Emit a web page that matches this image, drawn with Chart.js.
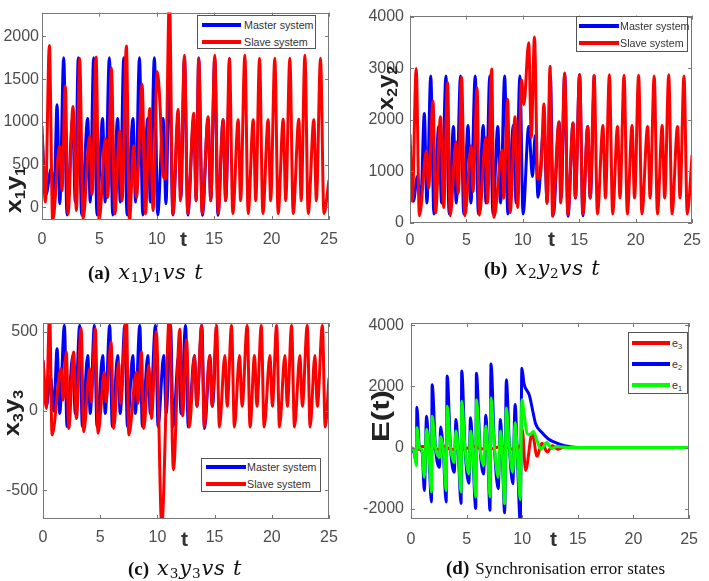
<!DOCTYPE html>
<html>
<head>
<meta charset="utf-8">
<script src="https://cdn.jsdelivr.net/npm/chart.js@4.4.0/dist/chart.umd.min.js"></script>
<style>
body { margin: 0; background: #fff; }
#page { position: relative; width: 709px; height: 581px; overflow: hidden; font-family: "Liberation Sans", Arial, sans-serif; }
canvas { position: absolute; left: 0; top: 0; }
.ytitle { position: absolute; font-weight: bold; color: #222; white-space: nowrap; line-height: 1; }
.ytitle sub { font-size: 65%; vertical-align: -0.25em; line-height: 0; }
.tlab { position: absolute; font: bold 21px "Liberation Sans", Arial, sans-serif; color: #333; line-height: 1; }
.legend { position: absolute; background: #fff; border: 1px solid #555; box-sizing: border-box; }
.legend .ln { position: absolute; height: 4px; }
.legend .tx { position: absolute; font-size: 10.7px; color: #333; line-height: 12px; white-space: nowrap; }
.legend .tx sub { font-size: 70%; vertical-align: -0.3em; line-height: 0; }
.cap { position: absolute; white-space: nowrap; line-height: 22px; color: #111; }
.cap b { font: bold 19px "Liberation Serif", "Times New Roman", serif; }
.cap .m { font: italic 21px "DejaVu Serif", serif; letter-spacing: 0.8px; margin-left: 8px; }
.cap .m sub { font-style: normal; font-size: 65%; vertical-align: -0.25em; line-height: 0; }
.cap .r { font: 17px "Liberation Serif", "Times New Roman", serif; margin-left: 6px; }
</style>
</head>
<body>
<div id="page">
  <canvas id="chartA" width="709" height="581"></canvas>
  <canvas id="chartB" width="709" height="581"></canvas>
  <canvas id="chartC" width="709" height="581"></canvas>
  <canvas id="chartD" width="709" height="581"></canvas>
  <div id="overlay"></div>
</div>
<script>
// shared axis ticks
const xTicks = [0, 5, 10, 15, 20, 25];
const yTicksA = [0, 500, 1000, 1500, 2000];
const yTicksB = [0, 1000, 2000, 3000, 4000];
const yTicksC = [-500, 0, 500];
const yTicksD = [-2000, 0, 2000, 4000];

// (a) x1 / y1 : [t, value]
const masterA = [[0,850],[0.35,150],[0.8,450],[1.05,80],[1.31,1200],[1.55,40],[1.89,1750],[2.18,-90],[2.67,1040],[2.9,60],
  [3.16,1750],[3.45,-90],[3.98,1040],[4.2,60],[4.5,1750],[4.79,-90],[5.28,1040],[5.5,60],[5.87,1750],[6.16,-90],
  [6.59,1040],[6.82,60],[7.12,1750],[7.41,-90],[7.93,1040],[8.15,60],[8.49,1750],[8.78,-90],[9.21,1040],[9.44,60],
  [9.79,1750],[10.08,-90],[10.55,1040],[10.8,40],[11.1,1750],[11.4,-90],[11.86,1040],[12.1,110],[12.41,1750],[12.7,-90],
  [13.22,1040],[13.43,75],[13.65,1750],[13.97,-95],[14.47,1040],[14.7,75],[15.05,1750],[15.32,-95],[15.78,1025],[16.0,75],[16.33,1745]];
const slaveA = [[0,950],[0.3,60],[0.64,1895],[0.93,-160],[1.54,720],[1.74,190],[2.03,1420],[2.27,-80],[2.7,1180],[3.0,-40],
  [3.28,1745],[3.58,-140],[4.16,835],[4.36,150],[4.71,1760],[4.98,-150],[5.52,800],[5.73,115],[6.05,1630],[6.34,-80],
  [6.77,890],[6.98,75],[7.35,1890],[7.62,-160],[7.99,720],[8.23,115],[8.72,1440],[9.01,-80],[9.39,1155],[9.68,-40],
  [10.03,1590],[10.3,1150],[10.48,450],[10.75,330],[11.1,2450],[11.4,-80],[11.86,1145],[12.06,75],[12.41,1780],[12.7,-75],
  [13.22,1100],[13.43,75],[13.65,1743],[13.95,-75],[14.47,1060],[14.7,75],[15.05,1780],[15.35,-75],[15.78,1025],[16.0,75],
  [16.33,1745],[16.62,-75],[17.09,1025],[17.3,75],[17.67,1780],[17.96,-75],[18.4,1025],[18.62,75],[18.95,1745],[19.24,-75],
  [19.7,1025],[19.92,75],[20.28,1745],[20.57,-75],[21.01,1030],[21.23,75],[21.59,1745],[21.88,-75],[22.37,1030],[22.58,75],
  [22.9,1780],[23.19,-75],[23.68,1025],[23.9,75],[24.26,1745],[24.56,-75],[25,320]];

// (b) x2 / y2
const masterB = [[0,1500],[0.3,420],[0.65,900],[0.95,380],[1.27,2124],[1.5,390],[1.84,2855],[2.12,175],[2.55,1880],[2.8,390],
  [3.19,2855],[3.47,175],[3.85,1875],[4.1,390],[4.48,2855],[4.76,175],[5.14,1890],[5.4,390],[5.78,2855],[6.06,175],
  [6.49,1890],[6.74,390],[7.07,2855],[7.35,175],[7.78,1875],[8.03,390],[8.39,2855],[8.67,175],[9.16,1890],[9.41,390],
  [9.74,2855],[10.02,175],[10.52,1875],[10.85,900],[11.1,1700],[11.35,500],[11.87,1900],[12.15,390],[12.44,2855],[12.7,160],
  [13.22,1960],[13.4,480],[13.71,2900],[14.0,130],[14.45,1940],[14.66,483],[15.03,2880],[15.32,140],[15.75,1875],[15.97,483],[16.32,2867]];
const slaveB = [[0,1720],[0.2,420],[0.55,3000],[0.83,140],[1.47,1410],[1.64,670],[2.04,2370],[2.27,200],[2.7,2060],[2.99,300],
  [3.33,2730],[3.56,140],[4.08,1570],[4.28,575],[4.57,2835],[4.86,140],[5.43,1505],[5.58,610],[5.95,2620],[6.15,150],
  [6.72,1660],[6.87,390],[7.24,2990],[7.44,110],[8.16,1410],[8.3,480],[8.65,2400],[8.88,205],[9.31,2060],[9.54,300],
  [9.89,2775],[10.09,2300],[10.52,3500],[10.75,1660],[11.03,3610],[11.32,850],[11.6,1000],[11.87,2310],[12.15,380],[12.41,3040],
  [12.64,130],[13.2,1960],[13.35,390],[13.71,2910],[13.99,160],[14.45,1940],[14.66,483],[15.03,2880],[15.32,175],[15.75,1875],
  [15.97,483],[16.32,2867],[16.61,175],[17.1,1890],[17.32,483],[17.67,2875],[17.96,175],[18.39,1875],[18.61,483],[18.97,2867],
  [19.26,175],[19.68,1890],[19.9,483],[20.26,2867],[20.55,175],[21.06,1875],[21.28,483],[21.64,2855],[21.93,175],[22.35,1890],
  [22.57,483],[22.93,2875],[23.22,175],[23.71,1875],[23.93,483],[24.28,2855],[24.57,175],[25,1320]];

// (c) x3 / y3
const masterC = [[0,320],[0.3,30],[0.65,220],[0.95,0],[1.23,393],[1.46,-15],[1.87,540],[2.1,-98],[2.6,350],[2.82,-15],
  [3.21,540],[3.44,-98],[3.91,351],[4.13,-15],[4.49,540],[4.72,-98],[5.22,351],[5.44,-15],[5.83,540],[6.06,-98],
  [6.53,351],[6.75,-15],[7.15,540],[7.38,-98],[7.85,351],[8.07,-15],[8.46,540],[8.69,-98],[9.16,351],[9.38,-15],
  [9.83,540],[10.06,-98],[10.55,351],[10.77,-15],[11.15,540],[11.38,-98],[11.85,351],[12.07,-15],[12.46,540],[12.7,-100],
  [13.24,350],[13.45,30],[13.88,540],[14.12,-110],[14.6,350],[14.8,30],[15.17,540]];
const slaveC = [[0,320],[0.29,17],[0.58,620],[0.79,-150],[1.58,268],[1.75,69],[2.04,372],[2.25,-109],[2.68,372],[2.92,-46],
  [3.33,522],[3.56,-130],[4.08,268],[4.2,59],[4.58,518],[4.81,-140],[5.37,247],[5.51,59],[5.95,435],[6.18,-109],
  [6.62,309],[6.77,48],[7.29,600],[7.5,-150],[8.17,247],[8.31,48],[8.6,372],[8.81,-109],[9.25,288],[9.48,-46],
  [9.9,500],[10.38,-720],[11.05,600],[11.4,-370],[11.96,516],[12.2,-30],[12.55,450],[12.8,-100],[13.24,350],[13.45,30],
  [13.86,540],[14.1,-100],[14.56,350],[14.77,30],[15.17,540],[15.42,-100],[15.9,350],[16.1,30],[16.48,540],[16.73,-100],
  [17.18,350],[17.4,30],[17.85,540],[18.1,-100],[18.49,350],[18.7,30],[19.08,540],[19.33,-100],[19.84,350],[20.05,30],
  [20.42,540],[20.67,-100],[21.15,350],[21.36,30],[21.73,540],[21.98,-100],[22.46,350],[22.67,30],[23.1,540],[23.35,-100],
  [23.77,350],[23.98,30],[24.42,540],[24.67,-100],[25,210]];

// (d) synchronisation errors
const errE3 = [[0,0],[0.5,-80],[1,30],[2.5,-60],[3,40],[3.5,-50],[4.8,-60],[5.5,40],[6.5,-50],[7.3,-40],[8.2,50],[9,-50],
  [9.9,80],[10.0,600],[10.3,-750],[10.9,480],[11.33,-290],[11.77,140],[12.25,-150],[12.7,60],[13.2,-60],[13.8,15],[14.5,0],[25,0]];
const errE2 = [[0,0],[0.3,-200],[0.48,-500],[0.53,1318],[0.75,0],[1.0,-150],[1.2,-1404],[1.4,1026],[1.6,-100],[1.84,-1782],
  [1.9,2052],[2.2,0],[2.57,-648],[2.66,670],[2.9,-100],[3.16,-1782],[3.25,2344],[3.55,0],[3.89,-810],[4.04,918],
  [4.25,-150],[4.5,-1836],[4.56,2506],[4.85,0],[5.2,-1166],[5.35,972],[5.55,-150],[5.82,-1998],[5.88,2430],[6.2,0],
  [6.52,-864],[6.73,1058],[6.9,-150],[7.1,-2052],[7.19,2732],[7.5,0],[7.84,-1350],[8.04,918],[8.2,-150],[8.42,-2138],
  [8.57,2214],[8.85,0],[9.15,-1188],[9.36,1404],[9.55,-150],[9.82,-2400],[9.97,2592],[10.15,2100],[10.65,1700],[11.0,1100],
  [11.2,780],[11.75,500],[12.35,280],[12.95,170],[13.8,60],[15,0],[25,0]];
const errE1 = [[0,0],[0.3,-150],[0.47,-594],[0.53,648],[0.75,0],[1.0,-100],[1.2,-972],[1.4,594],[1.6,-50],[1.84,-1458],
  [1.9,1026],[2.2,0],[2.57,-324],[2.66,356],[2.9,-50],[3.16,-1404],[3.25,1350],[3.55,0],[3.89,-486],[4.04,540],
  [4.25,-100],[4.5,-1458],[4.56,1512],[4.85,0],[5.2,-864],[5.35,540],[5.55,-100],[5.82,-1620],[5.88,1566],[6.2,0],
  [6.52,-594],[6.73,700],[6.9,-100],[7.1,-1620],[7.19,1620],[7.5,0],[7.84,-972],[8.04,540],[8.2,-100],[8.42,-1836],
  [8.57,1296],[8.85,0],[9.15,-810],[9.36,810],[9.55,-100],[9.82,-1700],[9.97,1560],[10.2,1000],[10.45,450],[10.7,420],
  [11.0,520],[11.3,250],[11.7,-60],[12.2,160],[12.65,-30],[13.1,30],[14,0],[25,0]];

const BLUE = '#0000ff', RED = '#ff0000', GREEN = '#00ff00';
const tickFont = { family: '"Liberation Sans", Arial, sans-serif', size: 16 };
const tickColor = '#4d4d4d';

// matlab style box with inward ticks on all sides
const boxPlugin = {
  id: 'box',
  afterDatasetsDraw(chart) {
    const { ctx, chartArea: a, scales: { x, y } } = chart;
    ctx.save();
    ctx.strokeStyle = '#777';
    ctx.lineWidth = 1;
    ctx.strokeRect(Math.round(a.left) + 0.5, Math.round(a.top) + 0.5,
      Math.round(a.right - a.left) - 1, Math.round(a.bottom - a.top) - 1);
    ctx.beginPath();
    x.ticks.forEach((t, i) => {
      const px = Math.round(x.getPixelForTick(i)) + 0.5;
      ctx.moveTo(px, a.bottom); ctx.lineTo(px, a.bottom - 4);
      ctx.moveTo(px, a.top); ctx.lineTo(px, a.top + 4);
    });
    y.ticks.forEach((t, i) => {
      const py = Math.round(y.getPixelForTick(i)) + 0.5;
      ctx.moveTo(a.left, py); ctx.lineTo(a.left + 4, py);
      ctx.moveTo(a.right, py); ctx.lineTo(a.right - 4, py);
    });
    ctx.stroke();
    ctx.restore();
  }
};

function drawPanel(id, area, yRange, yTicks, pad, series) {
  const datasets = series.map(s => ({
    data: s.points.map(p => ({ x: p[0], y: p[1] })),
    borderColor: s.color,
    borderWidth: 3,
    pointRadius: 0,
    cubicInterpolationMode: 'monotone',
    clip: 0,
    order: s.order
  }));

  new Chart(document.getElementById(id), {
    type: 'line',
    data: { datasets: datasets },
    options: {
      responsive: false,
      animation: false,
      events: [],
      layout: { padding: { left: 0, top: area.top, right: 709 - area.right, bottom: 581 - area.bottom - 30 } },
      scales: {
        x: {
          type: 'linear', min: 0, max: 25,
          afterBuildTicks: s => { s.ticks = xTicks.map(v => ({ value: v })); },
          afterFit: s => { s.height = 30; },
          grid: { display: false, drawTicks: false },
          border: { display: false },
          ticks: { padding: pad.x, color: tickColor, font: tickFont, maxRotation: 0, autoSkip: false, callback: v => String(v) }
        },
        y: {
          type: 'linear', min: yRange[0], max: yRange[1],
          afterBuildTicks: s => { s.ticks = yTicks.map(v => ({ value: v })); },
          afterFit: s => { s.width = area.left; },
          grid: { display: false, drawTicks: false },
          border: { display: false },
          ticks: { padding: pad.y, color: tickColor, font: tickFont, autoSkip: false, callback: v => String(v) }
        }
      },
      plugins: { legend: { display: false }, tooltip: { enabled: false } }
    },
    plugins: [boxPlugin]
  });
}

drawPanel('chartA', { left: 42, top: 6, right: 329, bottom: 220 }, [-150, 2280], yTicksA, { x: 10, y: 3 },
  [{ points: masterA, color: BLUE, order: 2 }, { points: slaveA, color: RED, order: 1 }]);
drawPanel('chartB', { left: 410, top: 7, right: 700, bottom: 223 }, [0, 4025], yTicksB, { x: 8, y: 6 },
  [{ points: masterB, color: BLUE, order: 2 }, { points: slaveB, color: RED, order: 1 }]);
drawPanel('chartC', { left: 43, top: 323, right: 329, bottom: 519 }, [-680, 555], yTicksC, { x: 9, y: 5 },
  [{ points: masterC, color: BLUE, order: 2 }, { points: slaveC, color: RED, order: 1 }]);
drawPanel('chartD', { left: 411, top: 323, right: 696, bottom: 519 }, [-2340, 4075], yTicksD, { x: 11, y: 7 },
  [{ points: errE3, color: RED, order: 1 }, { points: errE2, color: BLUE, order: 2 }, { points: errE1, color: GREEN, order: 0 }]);

// text overlays: axis titles, legends, captions
const overlay = document.getElementById('overlay');
function addDiv(cls, style, html) {
  const d = document.createElement('div');
  d.className = cls;
  d.style.cssText = style;
  d.innerHTML = html;
  overlay.appendChild(d);
  return d;
}

function yTitle(cx, cy, size, stretch, html) {
  addDiv('ytitle', `left:${cx}px;top:${cy}px;font-size:${size}px;transform:translate(-50%,-50%) rotate(-90deg) scaleX(${stretch});`, html);
}
yTitle(14, 190, 22, 1.15, 'x<sub>1</sub>y<sub>1</sub>');
yTitle(386, 88, 22, 1.1, 'x<sub>2</sub>y<sub>2</sub>');
yTitle(12, 413, 22, 1.15, 'x<sub>3</sub>y<sub>3</sub>');
yTitle(381, 416, 24, 1.3, 'E(t)');

[[184, 240], [552, 240], [185, 540], [554, 540]].forEach(p => {
  addDiv('tlab', `left:${p[0] - 4}px;top:${p[1] - 12}px;`, 't');
});

function legend(box, lineL, lineW, textL, rows) {
  const d = addDiv('legend', `left:${box.l}px;top:${box.t}px;width:${box.w}px;height:${box.h}px;`, '');
  rows.forEach(r => {
    const ln = document.createElement('div');
    ln.className = 'ln';
    ln.style.cssText = `left:${lineL}px;top:${r.y - box.t - 3}px;width:${lineW}px;background:${r.color};`;
    d.appendChild(ln);
    const tx = document.createElement('div');
    tx.className = 'tx';
    tx.style.cssText = `left:${textL}px;top:${r.y - box.t - 7}px;`;
    tx.innerHTML = r.label;
    d.appendChild(tx);
  });
}
const msRows = y0 => [{ color: BLUE, label: 'Master system', y: y0 }, { color: RED, label: 'Slave system', y: y0 + 17 }];
legend({ l: 197, t: 15, w: 119, h: 34 }, 4, 39, 46, msRows(25));
legend({ l: 576, t: 16, w: 112, h: 36 }, 2, 40, 43, msRows(26));
legend({ l: 201, t: 458, w: 120, h: 34 }, 4, 40, 45, msRows(467));
legend({ l: 628, t: 332, w: 60, h: 62 }, 3, 38, 43, [
  { color: RED, label: 'e<sub>3</sub>', y: 343 },
  { color: BLUE, label: 'e<sub>2</sub>', y: 364 },
  { color: GREEN, label: 'e<sub>1</sub>', y: 385 }
]);

addDiv('cap', 'left:88px;top:260px;', '<b>(a)</b><span class="m">x<sub>1</sub>y<sub>1</sub>vs t</span>');
addDiv('cap', 'left:484px;top:256px;', '<b>(b)</b><span class="m">x<sub>2</sub>y<sub>2</sub>vs t</span>');
addDiv('cap', 'left:128px;top:556px;', '<b>(c)</b><span class="m">x<sub>3</sub>y<sub>3</sub>vs t</span>');
addDiv('cap', 'left:446px;top:557px;', '<b>(d)</b><span class="r">Synchronisation error states</span>');
</script>
</body>
</html>
